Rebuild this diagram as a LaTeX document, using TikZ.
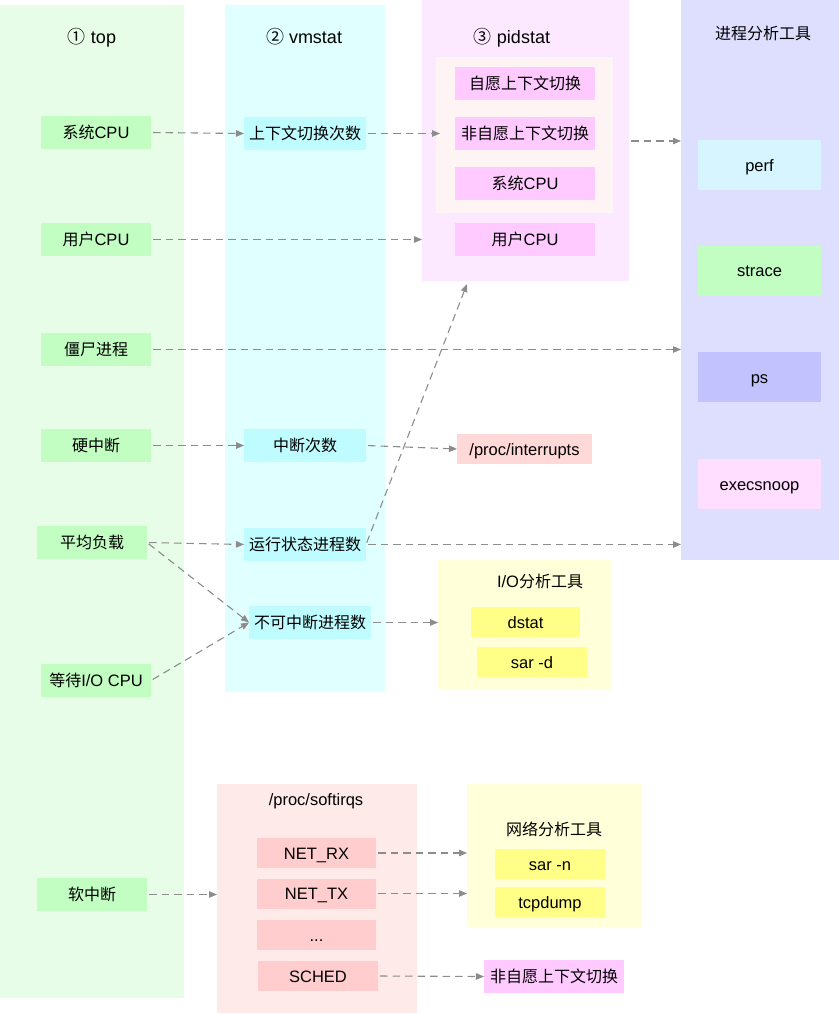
\documentclass[tikz,border=0pt]{standalone}
\usepackage{fontspec}
\setmainfont{Liberation Sans}
\newfontfamily\cjk{Noto Sans CJK SC}
\usetikzlibrary{arrows.meta,calc}
\newcommand\zh[1]{{\cjk\fontsize{16}{19}\selectfont #1}}
\definecolor{cTop}{HTML}{E8FDE8}
\definecolor{cVm}{HTML}{E0FFFF}
\definecolor{cPid}{HTML}{FDE9FF}
\definecolor{cInner}{HTML}{FFF4F4}
\definecolor{cProc}{HTML}{DEDEFF}
\definecolor{cIO}{HTML}{FFFFD9}
\definecolor{cSoft}{HTML}{FFEAEA}
\definecolor{gNode}{HTML}{C2FDC2}
\definecolor{bNode}{HTML}{BEFCFF}
\definecolor{pNode}{HTML}{FFCAFF}
\definecolor{perfC}{HTML}{D6F5FF}
\definecolor{psC}{HTML}{C2C2FF}
\definecolor{execC}{HTML}{FFDEFF}
\definecolor{irqC}{HTML}{FFD8D8}
\definecolor{yNode}{HTML}{FFFF88}
\definecolor{rNode}{HTML}{FFCDCD}
\definecolor{arr}{HTML}{8C8C8C}
\begin{document}
\begin{tikzpicture}[x=1pt,y=-1pt,
  every node/.style={inner sep=0pt,outer sep=0pt,font=\fontsize{16.5}{19}\selectfont,
    text height=12pt,text depth=0pt},
  area/.style={anchor=north west,draw=none,text height=,text depth=},
  box/.style={minimum height=33pt,text=black},
  ttl/.style={font=\fontsize{18}{21}\selectfont,text height=13pt},
  conn/.style={draw=arr,line width=1.1pt,dash pattern=on 7.5pt off 5pt,
    -{Triangle[length=8pt,width=6.5pt]},shorten <=2pt}]
\useasboundingbox (0,0) rectangle (839,1014);
% column backgrounds
\node[area,fill=cTop,minimum width=184pt,minimum height=993pt] (colTop) at (0,5) {};
\node[area,fill=cVm,minimum width=160pt,minimum height=687pt] (colVm) at (225,5) {};
\node[area,fill=cPid,minimum width=207pt,minimum height=281pt] (colPid) at (422,0) {};
\node[area,fill=cInner,minimum width=177pt,minimum height=156pt] (inner) at (436,57) {};
\node[area,fill=cProc,minimum width=158pt,minimum height=560pt] (colProc) at (681,0) {};
\node[area,fill=cIO,minimum width=174pt,minimum height=129pt] (ioBox) at (438,560) {};
\node[area,fill=cSoft,minimum width=200pt,minimum height=229pt] (softBox) at (217,784) {};
\node[area,fill=cIO,minimum width=175pt,minimum height=143pt] (netBox) at (467,784) {};
% titles
\node[ttl] (t1) at (92,37) {{\cjk ①} top};
\node[ttl] (t2) at (304,37) {{\cjk ②} vmstat};
\node[ttl] (t3) at (512,37) {{\cjk ③} pidstat};
\node (t4) at (763,34) {\zh{进程分析工具}};
\node (t5) at (540,581) {I/O\zh{分析工具}};
\node (t6) at (316,799) {/proc/softirqs};
\node (t7) at (554,829) {\zh{网络分析工具}};
% top column
\node[box,fill=gNode,minimum width=110pt] (sysCPU) at (96,132.5) {\zh{系统}CPU};
\node[box,fill=gNode,minimum width=110pt] (usrCPU) at (96,239.5) {\zh{用户}CPU};
\node[box,fill=gNode,minimum width=110pt] (zombie) at (96,349.5) {\zh{僵尸进程}};
\node[box,fill=gNode,minimum width=110pt] (hardirq) at (96,445.5) {\zh{硬中断}};
\node[box,fill=gNode,minimum width=110pt] (load) at (92,542.5) {\zh{平均负载}};
\node[box,fill=gNode,minimum width=110pt] (iowait) at (96,680.5) {\zh{等待}I/O CPU};
\node[box,fill=gNode,minimum width=110pt] (softirq) at (92,894.5) {\zh{软中断}};
% vmstat column
\node[box,fill=bNode,minimum width=122pt] (ctx) at (305,133.5) {\zh{上下文切换次数}};
\node[box,fill=bNode,minimum width=122pt] (irqcnt) at (305,445.5) {\zh{中断次数}};
\node[box,fill=bNode,minimum width=122pt] (running) at (305,544.5) {\zh{运行状态进程数}};
\node[box,fill=bNode,minimum width=122pt] (uninterr) at (310,622.5) {\zh{不可中断进程数}};
% pidstat column
\node[box,fill=pNode,minimum width=140pt] (vol) at (525,83.5) {\zh{自愿上下文切换}};
\node[box,fill=pNode,minimum width=140pt] (invol) at (525,133.5) {\zh{非自愿上下文切换}};
\node[box,fill=pNode,minimum width=140pt] (psys) at (525,183.5) {\zh{系统}CPU};
\node[box,fill=pNode,minimum width=140pt] (pusr) at (525,239.5) {\zh{用户}CPU};
% process tools
\node[box,fill=perfC,minimum width=123pt,minimum height=50pt] (perf) at (759.5,165) {perf};
\node[box,fill=gNode,minimum width=123pt,minimum height=50pt] (strace) at (759.5,270.5) {strace};
\node[box,fill=psC,minimum width=123pt,minimum height=50pt] (ps) at (759.5,377) {ps};
\node[box,fill=execC,minimum width=123pt,minimum height=50pt] (execsnoop) at (759.5,484) {execsnoop};
% others
\node[box,fill=irqC,minimum width=135pt,minimum height=30pt] (interrupts) at (524.5,449) {/proc/interrupts};
\node[box,fill=yNode,minimum width=109pt,minimum height=30pt] (dstat) at (525.5,622) {dstat};
\node[box,fill=yNode,minimum width=110pt,minimum height=30pt] (sard) at (532,662) {sar -d};
\node[box,fill=rNode,minimum width=119pt,minimum height=30pt] (netrx) at (316.5,853) {NET\_RX};
\node[box,fill=rNode,minimum width=119pt,minimum height=30pt] (nettx) at (316.5,893.5) {NET\_TX};
\node[box,fill=rNode,minimum width=119pt,minimum height=30pt] (dots) at (316.5,935) {...};
\node[box,fill=rNode,minimum width=120pt,minimum height=30pt] (sched) at (318,976) {SCHED};
\node[box,fill=yNode,minimum width=110pt,minimum height=30pt] (sarn) at (550,864) {sar -n};
\node[box,fill=yNode,minimum width=110pt,minimum height=30pt] (tcpdump) at (550,902) {tcpdump};
\node[box,fill=pNode,minimum width=140pt] (invol2) at (554,976.5) {\zh{非自愿上下文切换}};
% helper coordinates
\coordinate (y141) at (0,141);
\coordinate (pidIn) at (467,284);
% connectors
\draw[conn] (sysCPU.east) -- (ctx.west);
\draw[conn] (ctx.east) -- ([xshift=4pt]inner.west |- ctx.east);
\draw[conn] (colPid.east |- y141) -- (colProc.west |- y141);
\draw[conn] (usrCPU.east) -- (colPid.west |- usrCPU.east);
\draw[conn] (zombie.east) -- (colProc.west |- zombie.east);
\draw[conn] (hardirq.east) -- (irqcnt.west);
\draw[conn] (irqcnt.east) -- (interrupts.west);
\draw[conn] (load.east) -- (running.west);
\draw[conn] (running.east) -- (colProc.west |- running.east);
\draw[conn] (running.east) -- (pidIn);
\draw[conn] (load.east) -- (uninterr.west);
\draw[conn] (iowait.east) -- (uninterr.west);
\draw[conn] (uninterr.east) -- (ioBox.west |- uninterr.east);
\draw[conn] (softirq.east) -- (softBox.west |- softirq.east);
\draw[conn] (netrx.east) -- (netBox.west |- netrx.east);
\draw[conn] (nettx.east) -- (netBox.west |- nettx.east);
\draw[conn] (sched.east) -- (invol2.west);
\end{tikzpicture}
\end{document}
